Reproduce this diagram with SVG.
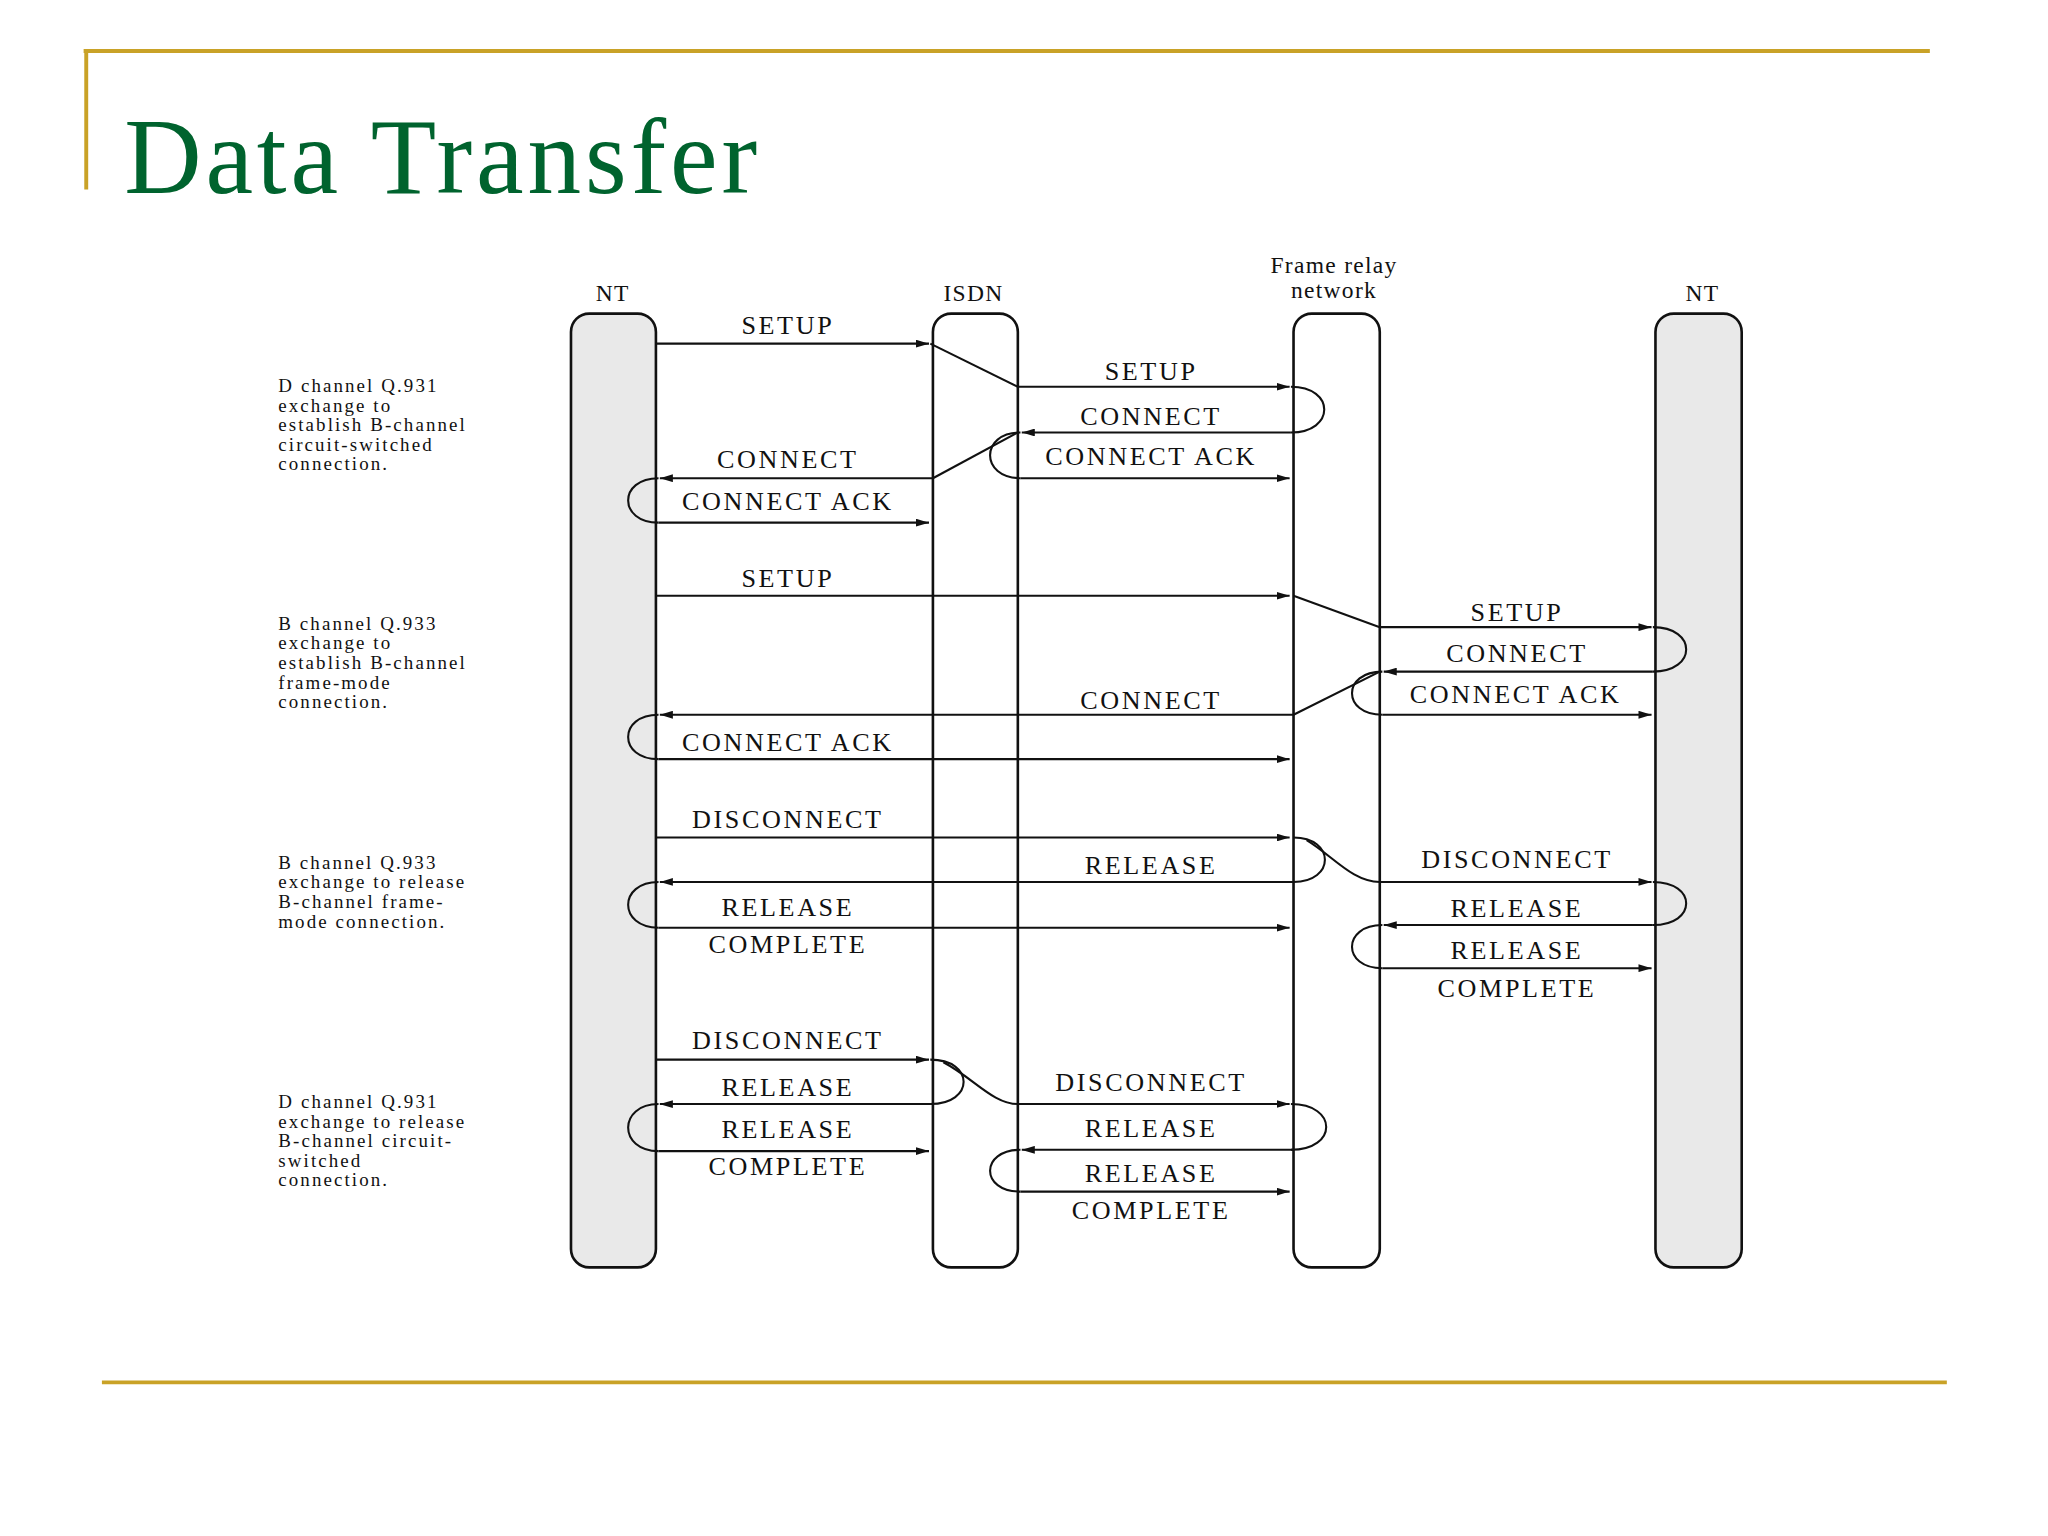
<svg xmlns="http://www.w3.org/2000/svg" width="2048" height="1536" viewBox="0 0 2048 1536">
<defs>
<marker id="ah" markerWidth="10" markerHeight="6" refX="10" refY="3" orient="auto" markerUnits="userSpaceOnUse"><path d="M0,0 L10,3 L0,6 Z" fill="#111"/></marker>
<style>
.ll{fill:#fff;stroke:#111;stroke-width:2}
.ntb{fill:#e9e9e9;stroke:#111;stroke-width:2}
.m{stroke:#111;stroke-width:1.6;fill:none}
.a{stroke:#111;stroke-width:1.6;fill:none;marker-end:url(#ah)}
.t{font-family:"Liberation Serif",serif;font-size:20px;fill:#111;text-anchor:middle;letter-spacing:2px}
.s{font-family:"Liberation Serif",serif;font-size:14.5px;fill:#111;letter-spacing:1.6px}
.h{font-family:"Liberation Serif",serif;font-size:18px;fill:#111;text-anchor:middle;letter-spacing:1px}
</style>
</defs>
<rect width="2048" height="1536" fill="#fff"/>
<g transform="scale(1.3066)">
<g id="frame">
<path d="M64,39 H1477 M66,39 V145" stroke="#c9a227" stroke-width="3" fill="none"/>
<path d="M78,1058 H1490" stroke="#c9a227" stroke-width="3" fill="none"/>
<text x="95" y="148" font-family="Liberation Serif,serif" font-size="82" letter-spacing="3" fill="#00632e">Data Transfer</text>
</g>
<g id="nt1"><rect class="ntb" x="437" y="240" width="65" height="730" rx="14"/><text class="h" x="469" y="230">NT</text></g>
<g id="isdn"><rect class="ll" x="714" y="240" width="65" height="730" rx="14"/><text class="h" x="745" y="230">ISDN</text></g>
<g id="fr"><rect class="ll" x="990" y="240" width="66" height="730" rx="14"/><text class="h" x="1021" y="209">Frame relay</text><text class="h" x="1021" y="228">network</text></g>
<g id="nt2"><rect class="ntb" x="1267" y="240" width="66" height="730" rx="14"/><text class="h" x="1303" y="230">NT</text></g>
<g id="notes">
<text class="s"><tspan x="213" y="300">D channel Q.931</tspan><tspan x="213" y="315">exchange to</tspan><tspan x="213" y="330">establish B-channel</tspan><tspan x="213" y="345">circuit-switched</tspan><tspan x="213" y="360">connection.</tspan></text>
<text class="s"><tspan x="213" y="482">B channel Q.933</tspan><tspan x="213" y="497">exchange to</tspan><tspan x="213" y="512">establish B-channel</tspan><tspan x="213" y="527">frame-mode</tspan><tspan x="213" y="542">connection.</tspan></text>
<text class="s"><tspan x="213" y="665">B channel Q.933</tspan><tspan x="213" y="680">exchange to release</tspan><tspan x="213" y="695">B-channel frame-</tspan><tspan x="213" y="710">mode connection.</tspan></text>
<text class="s"><tspan x="213" y="848">D channel Q.931</tspan><tspan x="213" y="863">exchange to release</tspan><tspan x="213" y="878">B-channel circuit-</tspan><tspan x="213" y="893">switched</tspan><tspan x="213" y="908">connection.</tspan></text>
</g>
<g id="connectors">
<path class="a" d="M502,263 H711"/><text class="t" x="603" y="256">SETUP</text>
<path class="m" d="M712,263 L779,296"/>
<path class="a" d="M779,296 H987"/><text class="t" x="881" y="291">SETUP</text>
<path class="m" d="M988,296 C1022,296 1022,331 988,331"/>
<path class="a" d="M988,331 H782"/><text class="t" x="881" y="325">CONNECT</text>
<path class="m" d="M781,331 C750,331 750,366 781,366"/>
<path class="a" d="M781,366 H987"/><text class="t" x="881" y="356">CONNECT ACK</text>
<path class="m" d="M779,331 L714,366"/>
<path class="a" d="M714,366 H505"/><text class="t" x="603" y="358">CONNECT</text>
<path class="m" d="M504,366 C473,366 473,400 504,400"/>
<path class="a" d="M504,400 H711"/><text class="t" x="603" y="390">CONNECT ACK</text>
<path class="a" d="M502,456 H987"/><text class="t" x="603" y="449">SETUP</text>
<path class="m" d="M990,456 L1056,480"/>
<path class="a" d="M1056,480 H1264"/><text class="t" x="1161" y="475">SETUP</text>
<path class="m" d="M1265,480 C1299,480 1299,514 1265,514"/>
<path class="a" d="M1265,514 H1059"/><text class="t" x="1161" y="507">CONNECT</text>
<path class="m" d="M1058,514 C1027,514 1027,547 1058,547"/>
<path class="a" d="M1058,547 H1264"/><text class="t" x="1160" y="538">CONNECT ACK</text>
<path class="m" d="M1056,514 L990,547"/>
<path class="a" d="M990,547 H505"/><text class="t" x="881" y="543">CONNECT</text>
<path class="m" d="M504,547 C473,547 473,581 504,581"/>
<path class="a" d="M504,581 H987"/><text class="t" x="603" y="575">CONNECT ACK</text>
<path class="a" d="M502,641 H987"/><text class="t" x="603" y="634">DISCONNECT</text>
<path class="m" d="M990,641 C1022,641 1022,675 990,675"/>
<path class="m" d="M1000,643 C1020,655 1035,675 1056,675"/>
<path class="a" d="M990,675 H505"/><text class="t" x="881" y="669">RELEASE</text>
<path class="a" d="M1056,675 H1264"/><text class="t" x="1161" y="664">DISCONNECT</text>
<path class="m" d="M1265,675 C1299,675 1299,708 1265,708"/>
<path class="a" d="M1265,708 H1059"/><text class="t" x="1161" y="702">RELEASE</text>
<path class="m" d="M504,675 C473,675 473,710 504,710"/>
<path class="a" d="M504,710 H987"/><text class="t" x="603" y="701">RELEASE</text><text class="t" x="603" y="729">COMPLETE</text>
<path class="m" d="M1058,708 C1027,708 1027,741 1058,741"/>
<path class="a" d="M1058,741 H1264"/><text class="t" x="1161" y="734">RELEASE</text><text class="t" x="1161" y="763">COMPLETE</text>
<path class="a" d="M502,811 H711"/><text class="t" x="603" y="803">DISCONNECT</text>
<path class="m" d="M712,811 C746,811 746,845 712,845"/>
<path class="m" d="M722,813 C745,825 760,845 779,845"/>
<path class="a" d="M714,845 H505"/><text class="t" x="603" y="839">RELEASE</text>
<path class="a" d="M779,845 H987"/><text class="t" x="881" y="835">DISCONNECT</text>
<path class="m" d="M988,845 C1024,845 1024,880 988,880"/>
<path class="a" d="M990,880 H782"/><text class="t" x="881" y="870">RELEASE</text>
<path class="m" d="M504,845 C473,845 473,881 504,881"/>
<path class="a" d="M504,881 H711"/><text class="t" x="603" y="871">RELEASE</text><text class="t" x="603" y="899">COMPLETE</text>
<path class="m" d="M781,880 C750,880 750,912 781,912"/>
<path class="a" d="M781,912 H987"/><text class="t" x="881" y="905">RELEASE</text><text class="t" x="881" y="933">COMPLETE</text>
</g>
</g>
</svg>
